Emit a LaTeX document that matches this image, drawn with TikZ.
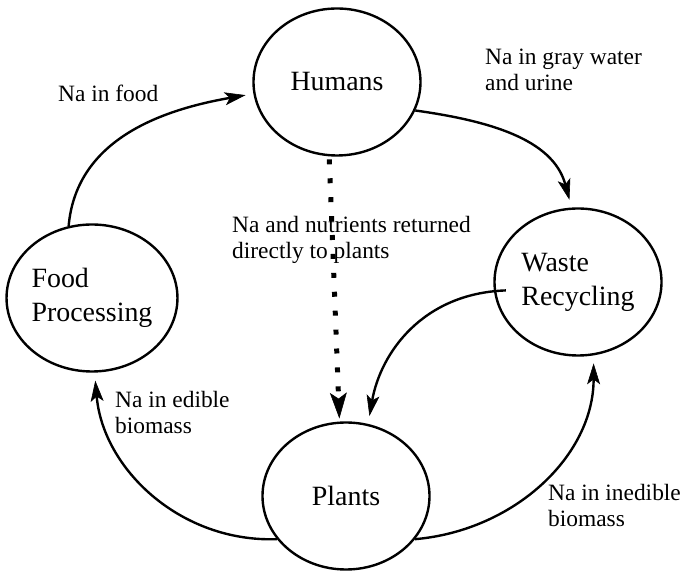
\documentclass[tikz,border=0pt]{standalone}
\usepackage{fontspec}
\setmainfont{Liberation Serif}
\usepackage{tikz}
\usetikzlibrary{arrows.meta,shapes}
\tikzstyle{pool}=[ellipse,draw=black,line width=2.4pt,minimum width=167bp,minimum height=147bp,inner sep=0pt,align=left,font=\fontsize{28}{34}\selectfont]
\tikzstyle{flow} = [draw,line width=2.4pt,-{Stealth[length=21pt,width=13pt,inset=5pt,line width=0.6pt]},shorten >=8pt]
\tikzstyle{direct} = [draw,line width=5pt,dash pattern=on 5pt off 14pt,-{Stealth[length=26pt,width=17pt,inset=6pt,line width=0.6pt]},shorten >=3pt,shorten <=3pt]
\tikzstyle{weight} = [inner sep=0pt,anchor=north west,align=left,font=\fontsize{23.5}{26}\selectfont]

\begin{document}
\begin{tikzpicture}[x=1bp,y=1bp]
    \useasboundingbox (0,0) rectangle (685,571);
    % The four pools of the sodium loop
    \foreach \pos/\name/\txt in {{(337,489)/humans/Humans},
    {(578,289)/waste/Waste\\Recycling},
    {(346,75)/plants/Plants},
    {(92,273)/food/Food\\Processing}}
        \node[pool] (\name) at \pos {\txt};

    % Labels of the flows
    \foreach \pos/\name/\txt in {{(58,486)/tofood/Na in food},
    {(485,522)/towaste/Na in gray water\\and urine},
    {(232,355)/todirect/Na and nutrients returned\\directly to plants},
    {(115,180)/toedible/Na in edible\\biomass},
    {(548,87)/toinedible/Na in inedible\\biomass}}
        \node[weight] (\name) at \pos {\txt};

    % Flows between the pools
    \foreach \source/\dest/\angout/\angin in {food.108/humans.188/85/190,
    humans.-20/waste.95/-8/105, plants.-32/waste.-78/5/270, plants.212/food.-88/182/275}
        \path[flow] (\source) to[out=\angout,in=\angin] (\dest);
    \path[flow,shorten <=-12pt] (waste.186) to[out=182,in=80] (plants.73);
    \path[direct] (humans.264) -- (plants.95);
\end{tikzpicture}
\end{document}
